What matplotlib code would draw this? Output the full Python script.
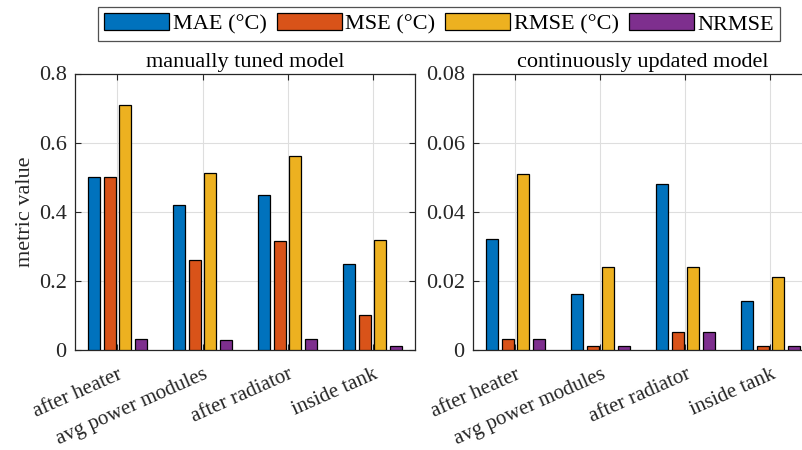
import matplotlib
matplotlib.use("Agg")
import matplotlib.pyplot as plt
import numpy as np
from matplotlib.patches import Patch

plt.rcParams['font.family'] = ['Liberation Serif', 'DejaVu Serif']
plt.rcParams['mathtext.fontset'] = 'stix'

categories = ["after heater", "avg power modules", "after radiator", "inside tank"]
metrics = ["MAE (°C)", "MSE (°C)", "RMSE (°C)", "NRMSE"]
colors = ["#0072BD", "#D95319", "#EDB120", "#7E2F8E"]

manual_mae = [0.50, 0.42, 0.448, 0.248]
manual_mse = [0.501, 0.26, 0.315, 0.101]
manual_rmse = [0.709, 0.511, 0.562, 0.318]
manual_nrmse = [0.031, 0.028, 0.032, 0.012]

cont_mae = [0.032, 0.016, 0.048, 0.014]
cont_mse = [0.003, 0.001, 0.005, 0.001]
cont_rmse = [0.051, 0.024, 0.024, 0.021]
cont_nrmse = [0.003, 0.001, 0.005, 0.001]

titles = ["manually tuned model", "continuously updated model"]
ylims = [(0, 0.8), (0, 0.08)]
yticks = [[0, 0.2, 0.4, 0.6, 0.8], [0, 0.02, 0.04, 0.06, 0.08]]
yticklabels = [["0", "0.2", "0.4", "0.6", "0.8"], ["0", "0.02", "0.04", "0.06", "0.08"]]

W, H = 803, 450
fig = plt.figure(figsize=(W / 100, H / 100), dpi=100)
axc = '#262626'

def make_ax(left_px, right_px, top_px, bottom_px):
    return fig.add_axes([left_px / W, 1 - bottom_px / H, (right_px - left_px) / W, (bottom_px - top_px) / H])

ax1 = make_ax(75, 415, 73.5, 349.7)
ax2 = make_ax(473, 813, 73.5, 349.7)

data = [[manual_mae, manual_mse, manual_rmse, manual_nrmse],
        [cont_mae, cont_mse, cont_rmse, cont_nrmse]]

x = np.arange(1, len(categories) + 1)
step = 0.181
bw = 0.141
for k, ax in enumerate([ax1, ax2]):
    ax.set_axisbelow(True)
    ax.grid(True, color='#dedede', linewidth=0.8)
    for i, series in enumerate(data[k]):
        ax.bar(x + (i - 1.5) * step, series, width=bw, color=colors[i],
               edgecolor='black', linewidth=0.9, zorder=3)
    ax.set_xlim(0.5, 4.5)
    ax.set_ylim(*ylims[k])
    ax.set_yticks(yticks[k])
    ax.set_yticklabels(yticklabels[k], fontsize=16)
    ax.set_xticks(x)
    ax.set_xticklabels(categories, rotation=24, ha='right', rotation_mode='anchor', fontsize=15)
    ax.tick_params(direction='in', top=True, right=True, length=4, colors=axc, labelcolor='#262626', pad=6)
    ax.tick_params(axis='x', pad=11)
    for s in ax.spines.values():
        s.set_color(axc)
        s.set_linewidth(0.9)
    ax.set_title(titles[k], fontsize=16, color='black', pad=5)

ax1.set_ylabel("metric value", fontsize=16, color='#262626', labelpad=3)

handles = [Patch(facecolor=c, edgecolor='black', linewidth=0.9) for c in colors]
leg = fig.legend(handles, metrics, loc='center', bbox_to_anchor=(439 / W, 1 - 24 / H),
                 ncol=4, fontsize=16, frameon=True, fancybox=False, edgecolor='#262626',
                 handlelength=2.93, handleheight=0.8, handletextpad=0.15, columnspacing=0.45,
                 borderpad=0.3, borderaxespad=0)
leg.get_frame().set_linewidth(0.9)

fig.savefig("out.png", dpi=100)
